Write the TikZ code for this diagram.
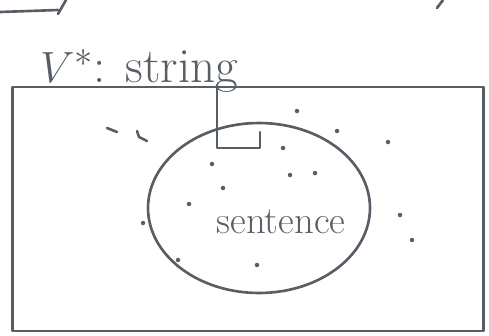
\documentclass[tikz,border=0pt]{standalone}
\usepackage{tikz}
\usepackage{xcolor}
\usetikzlibrary{positioning,shapes.geometric,calc}
\definecolor{penink}{RGB}{88,94,102}

\begin{document}
\begin{tikzpicture}[x=0.02cm, y=-0.02cm,
  stroke/.style={draw=penink, line width=1.5pt, line cap=round, line join=round},
  speck/.style={circle, fill=penink, inner sep=0pt, minimum size=0.9mm}]
  \useasboundingbox (0,0) rectangle (489,335);
  % all strings
  \node[stroke, rectangle, minimum width=9.42cm, minimum height=4.88cm] (vstar) at (248,209) {};
  \node[anchor=base west, text=penink, font=\fontsize{28}{32}\selectfont] (vlabel) at (34,82) {$V^*$: string};
  % sentences inside
  \node[stroke, ellipse, minimum width=4.44cm, minimum height=3.4cm] (sent) at (259,208) {};
  \node[text=penink, font=\fontsize{22}{26}\selectfont] (slabel) at (281,222) {sentence};
  % marker hanging from the top edge
  \coordinate (hook) at (217,148);
  \draw[stroke] (vstar.north -| hook) -- (hook) -- ++(43,0) -- ++(0,-16);
  % dots
  \foreach \p [count=\i] in {(297,111),(337,131),(388,142),(283,148),(212,164),(290,175),(315,173),(223,188),(189,204),(143,223),(400,215),(412,240),(178,260),(257,265)}
    \node[speck] (d\i) at \p {};
  % dashes
  \draw[stroke] (107,128) -- (117,132);
  \draw[stroke] (137,131) -- (139,137) -- (147,141);
  % cut-off strokes at the top
  \draw[stroke] (0,12) -- (58,10);
  \draw[stroke] (66,0) -- (58,14);
  \draw[stroke] (443,0) -- (437,8);
\end{tikzpicture}
\end{document}
